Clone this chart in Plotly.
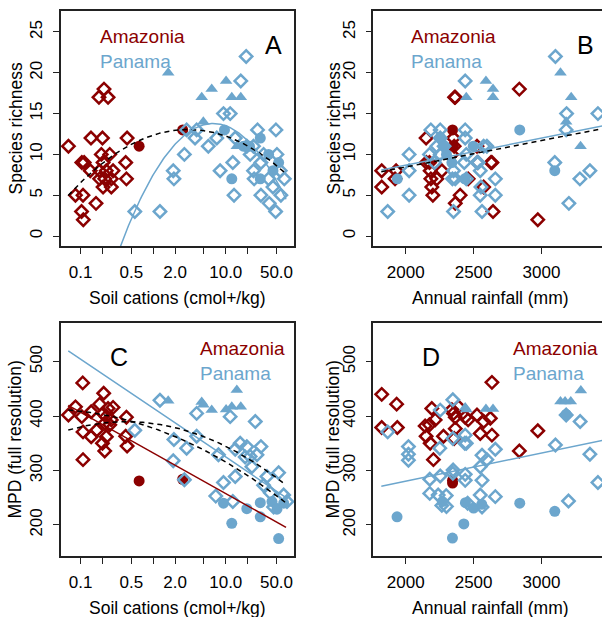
import numpy as np
import plotly.graph_objects as go

DARK = "#8B0000"
BLUE = "#6CA6CD"
FONT = "Liberation Sans, Arial, Helvetica, sans-serif"

# ---------------- Panel A : soil cations vs species richness ----------------
A_amz_dia_x = [0.068, 0.085, 0.104, 0.112, 0.108, 0.103, 0.109, 0.139, 0.136, 0.163, 0.179, 0.21, 0.239, 0.2,
               0.193, 0.252, 0.204, 0.183, 0.226, 0.28, 0.183, 0.215, 0.265, 0.204, 0.265, 0.437, 0.418, 0.428]
A_amz_dia_y = [11, 5, 9, 9, 5, 3, 2, 12, 8, 4, 17, 18, 17, 12, 10, 10, 9, 8, 8, 8, 7, 7, 7, 6, 6, 12, 9, 7]
A_amz_circ_x = [0.64, 2.55]
A_amz_circ_y = [11, 13]
A_pan_tri_x = [1.61, 4.66, 6.4, 10.1, 12.1, 16.1, 4.91, 14.2]
A_pan_tri_y = [20, 17, 18, 19, 17, 17, 14, 11]
A_pan_circ_x = [9.6, 29.9, 12.1, 29.9, 38.9, 53.5, 44.7, 17.5, 21.2]
A_pan_circ_y = [13, 12, 7, 7, 10, 9, 8, 11, 11]
A_pan_dia_x = [19.1, 16.1, 9.3, 11.5, 2.89, 3.97, 27.4, 49.1, 3.77, 7.52, 13.5, 5.75, 2.69, 1.89, 1.93, 0.558,
               1.24, 8.36, 12.5, 24.1, 24.6, 30.5, 13.0, 30.5, 39.7, 48.6, 44.7, 57.5, 64.0, 19.5, 24.1, 21.7,
               33.2, 50.7, 56.4, 38.9]
A_pan_dia_y = [22, 19, 15, 15, 13, 13, 13, 13, 12, 12, 12, 11, 10, 8, 7, 3, 3, 8, 9, 8, 7, 9, 5, 5, 4, 3, 6, 5,
               7, 11, 11, 10, 10, 10, 8, 7]
# quadratic fits in log10(cations): c0 + c1*L + c2*L^2
A_fit_all = [12.366, 2.851, -2.97]
A_fit_pan = [7.5, 15.2, -9.2]

# ---------------- Panel B : rainfall vs species richness ----------------
B_amz_dia_x = [1823, 1823, 1921, 1929, 2150, 2175, 2180, 2185, 2192, 2200, 2229, 2266, 2360, 2365, 2352, 2357,
               2340, 2365, 2401, 2460, 2525, 2530, 2574, 2635, 2643, 2837, 2973, 2152, 2628]
B_amz_dia_y = [8, 6, 7, 8, 12, 9, 8, 7, 6, 5, 7, 8, 17, 17, 12, 11, 10, 4, 5, 7, 11, 9, 6, 9, 3, 18, 2, 9, 9]
B_amz_circ_x = [2345, 2349]
B_amz_circ_y = [13, 11]
B_pan_tri_x = [2446, 2591, 2643, 2643, 3140, 3219, 3182, 3288]
B_pan_tri_y = [17, 19, 18, 17, 20, 17, 14, 11]
B_pan_circ_x = [1938, 2255, 2285, 2340, 2435, 2497, 2840, 3098, 2300]
B_pan_circ_y = [7, 12, 11, 9, 7, 11, 13, 8, 10]
B_pan_dia_x = [1867, 2025, 2025, 2025, 2185, 2175, 2212, 2254, 2254, 2229, 2283, 2352, 2352, 2365, 2438, 2438,
               2438, 2446, 2431, 2446, 2549, 2549, 2562, 2554, 2574, 2598, 2660, 2660, 3103, 3185, 3182, 3098,
               3202, 3283, 3357, 3416, 2254, 2525, 2344, 2534]
B_pan_dia_y = [3, 10, 8, 5, 13, 10, 9, 13, 12, 11, 11, 3, 8, 7, 19, 13, 12, 10, 9, 7, 8, 5, 3, 6, 11, 11, 7, 5,
               22, 15, 13, 9, 4, 7, 8, 15, 10, 9, 7, 9]
# linear fits in rainfall: c0 + c1*x
B_fit_all = [1.97, 0.003242]
B_fit_pan = [2.043, 0.003317]

# ---------------- Panel C : soil cations vs MPD ----------------
C_amz_dia_x = [0.068, 0.085, 0.107, 0.104, 0.108, 0.108, 0.14, 0.14, 0.166, 0.183, 0.208, 0.204, 0.215, 0.226,
               0.239, 0.252, 0.28, 0.265, 0.226, 0.2, 0.215, 0.428, 0.418, 0.437]
C_amz_dia_y = [402, 417, 461, 399, 320, 371, 408, 362, 374, 422, 442, 405, 387, 399, 414, 384, 416, 393, 362,
               350, 336, 398, 363, 345]
C_amz_circ_x = [0.64, 2.55]
C_amz_circ_y = [281, 284]
C_pan_tri_x = [1.61, 4.66, 4.91, 6.4, 10.1, 12.1, 16.1, 14.2]
C_pan_tri_y = [428, 426, 421, 411, 412, 417, 417, 448]
C_pan_circ_x = [9.3, 12.1, 19.5, 29.9, 29.9, 43.3, 53.5, 50.7, 62.7]
C_pan_circ_y = [240, 203, 230, 241, 215, 243, 175, 229, 240]
C_pan_dia_x = [1.24, 3.97, 11.5, 25.5, 0.558, 1.93, 3.97, 2.89, 1.89, 2.69, 7.93, 13.5, 15.8, 19.5, 18.5, 30.5,
               26.9, 22.9, 13.5, 9.3, 7.28, 12.5, 53.5, 36.9, 41.0, 33.2, 62.7, 69.7, 45.6, 21.7]
C_pan_dia_y = [429, 405, 399, 390, 374, 357, 363, 341, 318, 283, 329, 339, 350, 344, 325, 344, 329, 307, 289,
               278, 253, 243, 296, 289, 259, 273, 255, 243, 233, 326]
C_fit_all1 = [378.0, -46.6, -15.6]
C_fit_all2 = [386.5, -17.8, -24.1]
C_fit_amz = [332.4, -74.7]
C_fit_pan = [414.6, -89.8]

# ---------------- Panel D : rainfall vs MPD ----------------
D_amz_dia_x = [1823, 1823, 1933, 1938, 2143, 2150, 2175, 2192, 2180, 2204, 2217, 2278, 2340, 2352, 2365, 2365,
               2357, 2389, 2438, 2460, 2525, 2549, 2574, 2623, 2635, 2635, 2837, 2973]
D_amz_dia_y = [440, 379, 422, 379, 382, 363, 384, 414, 350, 320, 393, 363, 412, 405, 398, 377, 359, 417, 398,
               393, 402, 368, 390, 396, 365, 462, 336, 373]
D_amz_circ_x = [2345, 2345]
D_amz_circ_y = [282, 277]
D_pan_tri_x = [2438, 2446, 2591, 2643, 3140, 3174, 3216, 3290]
D_pan_tri_y = [416, 412, 413, 413, 427, 427, 427, 447]
D_pan_circ_x = [1936, 2270, 2344, 2428, 2440, 2500, 2560, 2840, 3098, 3182]
D_pan_circ_y = [215, 243, 176, 202, 241, 231, 238, 240, 225, 403]
D_pan_dia_x = [1867, 2020, 2020, 2020, 2177, 2177, 2254, 2254, 2239, 2298, 2266, 2300, 2347, 2347, 2347, 2438,
               2446, 2438, 2438, 2456, 2562, 2598, 2549, 2562, 2549, 2562, 2660, 2660, 3103, 3182, 3199, 3285,
               3357, 3416, 2251, 2349, 2435]
D_pan_dia_y = [371, 344, 330, 319, 284, 258, 411, 290, 255, 254, 236, 234, 430, 295, 359, 365, 350, 293, 282,
               240, 328, 320, 307, 282, 255, 233, 339, 252, 347, 402, 244, 390, 330, 278, 341, 301, 350]
D_fit_pan = [177.1, 0.05172]

LOG_TICKS = [0.1, 0.2, 0.5, 1, 2, 5, 10, 20, 50]
LOG_TEXT = ["0.1", "", "0.5", "", "2.0", "", "10.0", "", "50.0"]
RAIN_TICKS = [2000, 2500, 3000]
RICH_TICKS = [0, 5, 10, 15, 20, 25]
MPD_TICKS = [200, 300, 400, 500]

fig = go.Figure()


def pts(x, y, ax, symbol, color, size, lw=0):
    fig.add_trace(go.Scatter(
        x=x, y=y, mode="markers", xaxis=ax[0], yaxis=ax[1], hoverinfo="skip",
        marker=dict(symbol=symbol, color=color, size=size,
                    line=dict(width=lw, color=color))))


def curve(xs, ys, ax, color, dash):
    fig.add_trace(go.Scatter(x=xs, y=ys, mode="lines", xaxis=ax[0], yaxis=ax[1], hoverinfo="skip",
                             line=dict(color=color, width=1.5, dash=dash)))


DS = 9.5
DW = 2.5
CS = 11
TS = 11

panels = [
    (("x", "y"), A_amz_dia_x, A_amz_dia_y, A_amz_circ_x, A_amz_circ_y, A_pan_dia_x, A_pan_dia_y,
     A_pan_circ_x, A_pan_circ_y, A_pan_tri_x, A_pan_tri_y),
    (("x2", "y2"), B_amz_dia_x, B_amz_dia_y, B_amz_circ_x, B_amz_circ_y, B_pan_dia_x, B_pan_dia_y,
     B_pan_circ_x, B_pan_circ_y, B_pan_tri_x, B_pan_tri_y),
    (("x3", "y3"), C_amz_dia_x, C_amz_dia_y, C_amz_circ_x, C_amz_circ_y, C_pan_dia_x, C_pan_dia_y,
     C_pan_circ_x, C_pan_circ_y, C_pan_tri_x, C_pan_tri_y),
    (("x4", "y4"), D_amz_dia_x, D_amz_dia_y, D_amz_circ_x, D_amz_circ_y, D_pan_dia_x, D_pan_dia_y,
     D_pan_circ_x, D_pan_circ_y, D_pan_tri_x, D_pan_tri_y),
]
for ax, adx, ady, acx, acy, pdx, pdy, pcx, pcy, ptx, pty in panels:
    pts(adx, ady, ax, "diamond-open", DARK, DS, DW)
    pts(acx, acy, ax, "circle", DARK, CS)
    pts(pdx, pdy, ax, "diamond-open", BLUE, DS, DW)
    pts(pcx, pcy, ax, "circle", BLUE, CS)
    pts(ptx, pty, ax, "triangle-up", BLUE, TS)

# fitted curves
L = np.linspace(-1.17, 1.83, 200)
Xlog = 10 ** L
curve(Xlog, np.polyval(A_fit_all[::-1], L), ("x", "y"), "black", "5px,4px")
curve(Xlog, np.polyval(A_fit_pan[::-1], L), ("x", "y"), BLUE, "solid")
R = np.linspace(1820, 3460, 50)
curve(R, np.polyval(B_fit_pan[::-1], R), ("x2", "y2"), BLUE, "solid")
curve(R, np.polyval(B_fit_all[::-1], R), ("x2", "y2"), "black", "5px,4px")
curve(Xlog, np.polyval(C_fit_pan[::-1], L), ("x3", "y3"), BLUE, "solid")
curve(Xlog, np.polyval(C_fit_amz[::-1], L), ("x3", "y3"), DARK, "solid")
curve(Xlog, np.polyval(C_fit_all1[::-1], L), ("x3", "y3"), "black", "5px,4px")
curve(Xlog, np.polyval(C_fit_all2[::-1], L), ("x3", "y3"), "black", "5px,4px")
curve(R, np.polyval(D_fit_pan[::-1], R), ("x4", "y4"), BLUE, "solid")

W, H = 602, 617
xA = [61 / W, 294 / W]
xB = [373.3 / W, 1.0]
yTop = [1 - 246 / H, 1 - 11 / H]
yBot = [1 - 556 / H, 1 - 323.3 / H]

axis_common = dict(showline=True, linecolor="#222", linewidth=1.6, ticks="outside", ticklen=6,
                   tickwidth=1.3, tickcolor="#222", showgrid=False, zeroline=False,
                   tickfont=dict(family=FONT, size=17, color="black"))

fig.update_layout(
    width=W, height=H, margin=dict(l=0, r=0, t=0, b=0),
    paper_bgcolor="white", plot_bgcolor="white", showlegend=False,
    font=dict(family=FONT, color="black"),
    xaxis=dict(domain=xA, type="log", range=[-1.27, 1.94], tickvals=LOG_TICKS, ticktext=LOG_TEXT,
               anchor="y", mirror=True, ticklabelstandoff=4, **axis_common),
    yaxis=dict(domain=yTop, range=[-1.225, 27.57], tickvals=RICH_TICKS, tickangle=-90, anchor="x",
               mirror=True, ticklabelstandoff=4, **axis_common),
    xaxis2=dict(domain=xB, range=[1761, 3446], tickvals=RAIN_TICKS, anchor="y2", mirror=True,
                ticklabelstandoff=4, **axis_common),
    yaxis2=dict(domain=yTop, range=[-1.225, 27.57], tickvals=RICH_TICKS, tickangle=-90, anchor="x2",
                mirror=False, ticklabelstandoff=4, **axis_common),
    xaxis3=dict(domain=xA, type="log", range=[-1.27, 1.94], tickvals=LOG_TICKS, ticktext=LOG_TEXT,
                anchor="y3", mirror=True, ticklabelstandoff=4, **axis_common),
    yaxis3=dict(domain=yBot, range=[143, 570.5], tickvals=MPD_TICKS, tickangle=-90, anchor="x3",
                mirror=True, ticklabelstandoff=4, **axis_common),
    xaxis4=dict(domain=xB, range=[1761, 3446], tickvals=RAIN_TICKS, anchor="y4", mirror=True,
                ticklabelstandoff=4, **axis_common),
    yaxis4=dict(domain=yBot, range=[143, 570.5], tickvals=MPD_TICKS, tickangle=-90, anchor="x4",
                mirror=False, ticklabelstandoff=4, **axis_common),
)


def txt(text, px, py, size, color="black", xanchor="center", angle=0):
    fig.add_annotation(text=text, x=px / W, y=1 - py / H, xref="paper", yref="paper", showarrow=False,
                       xanchor=xanchor, yanchor="middle", textangle=angle,
                       font=dict(family=FONT, size=size, color=color))


# axis titles
txt("Species richness", 15, 128.5, 17.5, angle=-90)
txt("Species richness", 333, 128.5, 17.5, angle=-90)
txt("MPD (full resolution)", 15, 439.6, 17.5, angle=-90)
txt("MPD (full resolution)", 333, 439.6, 17.5, angle=-90)
txt("Soil cations (cmol+/kg)", 177.5, 297.5, 17.5)
txt("Annual rainfall (mm)", 490.4, 297.5, 17.5)
txt("Soil cations (cmol+/kg)", 177.5, 607.5, 17.5)
txt("Annual rainfall (mm)", 490.4, 607.5, 17.5)

# panel letters
txt("A", 273.3, 45, 25)
txt("B", 585, 45, 25)
txt("C", 118.8, 357, 25)
txt("D", 431, 357, 25)

# in-panel legends
txt("Amazonia", 97.7, 36, 19, DARK, "left")
txt("Panama", 97.7, 61, 19, BLUE, "left")
txt("Amazonia", 409.3, 36, 19, DARK, "left")
txt("Panama", 409.3, 61, 19, BLUE, "left")
txt("Amazonia", 198.3, 348.5, 19, DARK, "left")
txt("Panama", 198.3, 373, 19, BLUE, "left")
txt("Amazonia", 510.7, 348.5, 19, DARK, "left")
txt("Panama", 510.7, 373, 19, BLUE, "left")

fig.write_html("out.html", config={"displayModeBar": False},
               post_script="document.body.style.margin='0';document.body.style.overflow='hidden';")
